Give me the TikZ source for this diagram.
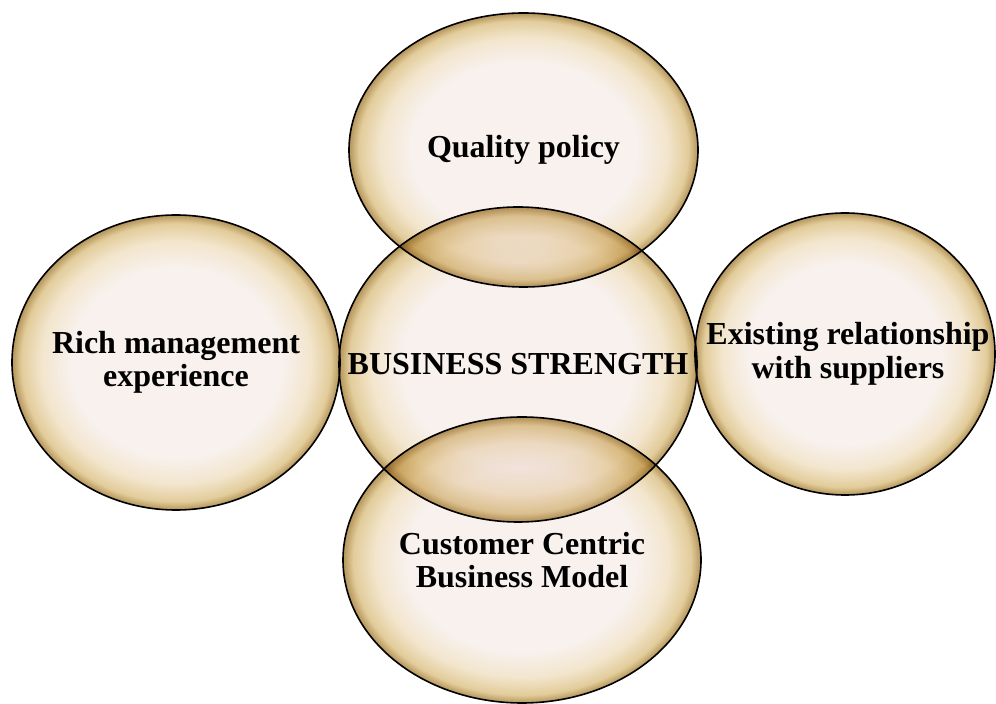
\documentclass[tikz,border=0pt]{standalone}
\usepackage{fontspec}
\setmainfont{Liberation Serif}
\usetikzlibrary{shapes.geometric}
\definecolor{bubbleIn}{RGB}{248,241,238}
\definecolor{bubbleMid}{RGB}{243,230,206}
\definecolor{bubbleEdge}{RGB}{226,204,154}
\definecolor{bubbleRim}{RGB}{180,148,90}
\pgfdeclareradialshading{bubbleshade}{\pgfpoint{0bp}{0bp}}{%
  color(0bp)=(bubbleIn); color(16bp)=(bubbleIn); color(20.5bp)=(bubbleMid);
  color(23.6bp)=(bubbleEdge); color(25bp)=(bubbleRim); color(50bp)=(bubbleRim)}
\begin{document}
\begin{tikzpicture}[x=1pt,y=1pt,
  bubble/.style={ellipse, draw=black, line width=1.6pt, shading=bubbleshade,
    inner sep=0pt},
  caption/.style={align=center, text=black, inner sep=0pt,
    font=\bfseries\fontsize{32}{33.5}\selectfont}]
\path[use as bounding box,fill=white] (0,0) rectangle (996,704);
\begin{scope}[blend mode=multiply]
\node[bubble, minimum width=358pt, minimum height=315pt] (strength) at (518,339.5) {};

\node[bubble, minimum width=349pt, minimum height=274pt] (quality) at (523.5,554) {};

\node[bubble, minimum width=328pt, minimum height=295pt] (rich) at (176,341.5) {};

\node[bubble, minimum width=300pt, minimum height=282pt] (suppliers) at (845,350) {};

\node[bubble, minimum width=358pt, minimum height=286pt] (customer) at (522,144) {};
\end{scope}

\node[caption] (strengthText) at (strength.center) {BUSINESS STRENGTH};
\node[caption] (qualityText) at (quality.center) {Quality policy};
\node[caption] (richText) at (rich.center) {Rich management\\experience};
\node[caption] (suppliersText) at ([xshift=3pt]suppliers.center) {Existing relationship\\with suppliers};
\node[caption] (customerText) at (customer.center) {Customer Centric\\Business Model};
\end{tikzpicture}
\end{document}
